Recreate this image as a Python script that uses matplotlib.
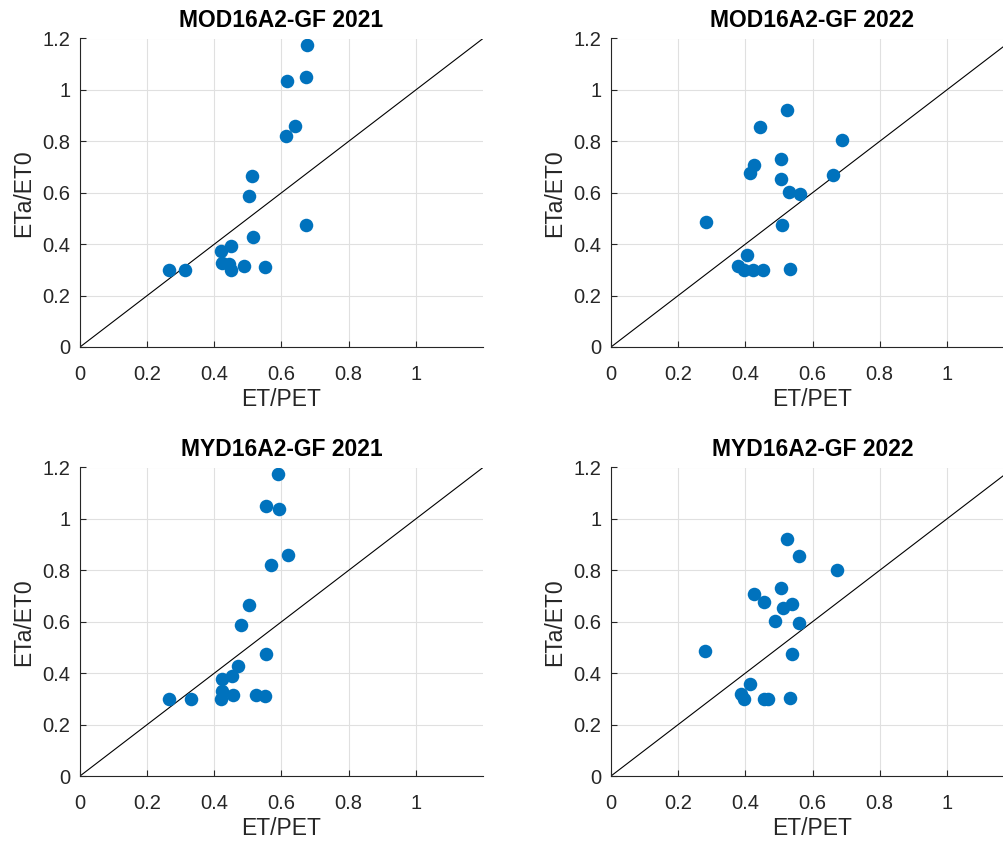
import matplotlib
matplotlib.use('Agg')
import matplotlib.pyplot as plt

plt.rcParams['font.family'] = ['Liberation Sans', 'DejaVu Sans']

# ET/PET (x) and ETa/ET0 (y) for each product/year
mod_2021_x = [0.677, 0.617, 0.673, 0.641, 0.613, 0.512, 0.502, 0.673, 0.514,
              0.450, 0.421, 0.423, 0.444, 0.451, 0.487, 0.550, 0.265, 0.314]
mod_2021_y = [1.174, 1.036, 1.050, 0.858, 0.821, 0.667, 0.589, 0.476, 0.426,
              0.391, 0.375, 0.328, 0.321, 0.300, 0.316, 0.311, 0.300, 0.300]

mod_2022_x = [0.523, 0.445, 0.687, 0.506, 0.426, 0.413, 0.661, 0.507, 0.529,
              0.562, 0.282, 0.508, 0.406, 0.377, 0.395, 0.423, 0.452, 0.532]
mod_2022_y = [0.922, 0.856, 0.804, 0.730, 0.707, 0.677, 0.668, 0.654, 0.601,
              0.597, 0.487, 0.474, 0.359, 0.317, 0.300, 0.300, 0.300, 0.304]

myd_2021_x = [0.590, 0.554, 0.593, 0.618, 0.570, 0.503, 0.478, 0.555, 0.471,
              0.454, 0.422, 0.422, 0.419, 0.457, 0.523, 0.552, 0.264, 0.330]
myd_2021_y = [1.174, 1.051, 1.037, 0.859, 0.822, 0.666, 0.588, 0.476, 0.426,
              0.390, 0.376, 0.329, 0.298, 0.316, 0.316, 0.311, 0.298, 0.298]

myd_2022_x = [0.523, 0.561, 0.672, 0.506, 0.426, 0.456, 0.539, 0.512, 0.489,
              0.561, 0.279, 0.539, 0.413, 0.388, 0.396, 0.456, 0.467, 0.533]
myd_2022_y = [0.921, 0.857, 0.803, 0.730, 0.706, 0.678, 0.670, 0.653, 0.601,
              0.596, 0.486, 0.473, 0.359, 0.319, 0.298, 0.298, 0.298, 0.302]

titles = ['MOD16A2-GF 2021', 'MOD16A2-GF 2022', 'MYD16A2-GF 2021', 'MYD16A2-GF 2022']
panels = [(mod_2021_x, mod_2021_y), (mod_2022_x, mod_2022_y),
          (myd_2021_x, myd_2021_y), (myd_2022_x, myd_2022_y)]

x_ticks = [0, 0.2, 0.4, 0.6, 0.8, 1]
x_tick_labels = ['0', '0.2', '0.4', '0.6', '0.8', '1']
y_ticks = [0, 0.2, 0.4, 0.6, 0.8, 1, 1.2]
y_tick_labels = ['0', '0.2', '0.4', '0.6', '0.8', '1', '1.2']

fig = plt.figure(figsize=(10.04, 8.43), dpi=100)
W, H = 1004, 843
# left, top (pixels) of each axes
boxes = [(80, 38.5), (611, 38.5), (80, 467.5), (611, 467.5)]
aw, ah = 403, 308.5

dark = '#262626'
for (x, y), title, (l, t) in zip(panels, titles, boxes):
    ax = fig.add_axes([l / W, 1 - (t + ah) / H, aw / W, ah / H])
    ax.plot([0, 1.2], [0, 1.2], color='black', lw=0.8, zorder=2)
    ax.scatter(x, y, s=95, color='#0072BD', zorder=3, linewidths=0)
    ax.set_xlim(0, 1.2)
    ax.set_ylim(0, 1.2)
    ax.set_xticks(x_ticks)
    ax.set_xticklabels(x_tick_labels)
    ax.set_yticks(y_ticks)
    ax.set_yticklabels(y_tick_labels)
    ax.grid(True, color='#e0e0e0', lw=0.8)
    ax.set_axisbelow(True)
    for side in ['top', 'right']:
        ax.spines[side].set_visible(False)
    for side in ['left', 'bottom']:
        ax.spines[side].set_color(dark)
        ax.spines[side].set_linewidth(0.8)
    ax.tick_params(direction='in', length=4, width=0.8, colors=dark,
                   labelsize=14.5)
    ax.tick_params(axis='x', pad=13)
    ax.tick_params(axis='y', pad=7)
    ax.set_xlabel('ET/PET', fontsize=16.5, color=dark, labelpad=3)
    ax.set_ylabel('ETa/ET0', fontsize=16.5, color=dark, labelpad=5)
    ax.set_title(title, fontsize=16.5, fontweight='bold', pad=8)

plt.savefig('out.png', dpi=100)
